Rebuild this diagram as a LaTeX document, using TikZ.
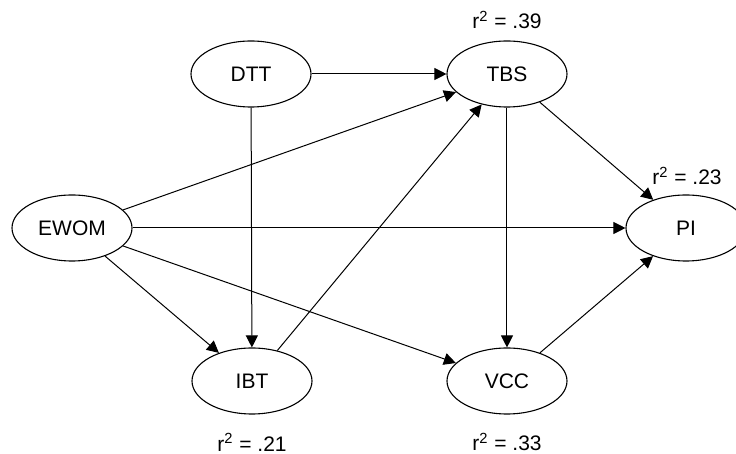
\documentclass[tikz,border=0pt]{standalone}
\usepackage{fontspec}
\setmainfont{Liberation Sans}
\usetikzlibrary{shapes.geometric,arrows.meta}
\tikzset{
  construct/.style={ellipse,draw,line width=0.55pt,minimum width=60pt,minimum height=33pt,inner sep=0pt,font=\fontsize{10.5}{12}\selectfont},
  rsq/.style={font=\fontsize{10.5}{12}\selectfont,inner sep=0pt},
  path/.style={draw,line width=0.5pt,-{Triangle[length=6pt,width=6pt]}}
}
\begin{document}
\begin{tikzpicture}[x=0.5pt,y=-0.5pt]
\useasboundingbox (0,0) rectangle (736,454);
\clip (0,0) rectangle (736,454);
% latent constructs
\node[construct] (dtt)  at (251,74)  {DTT};
\node[construct] (tbs)  at (507,74)  {TBS};
\node[construct] (ewom) at (72,228)  {EWOM};
\node[construct] (pi)   at (686,228) {PI};
\node[construct] (ibt)  at (252,381) {IBT};
\node[construct] (vcc)  at (507,381) {VCC};
% explained variance
\node[rsq] (r2tbs) at (507,20)  {r\textsuperscript{2} = .39};
\node[rsq] (r2pi)  at (687,176) {r\textsuperscript{2} = .23};
\node[rsq] (r2ibt) at (252,442) {r\textsuperscript{2} = .21};
\node[rsq] (r2vcc) at (507,442) {r\textsuperscript{2} = .33};
% structural paths
\draw[path] (dtt) -- (tbs);
\draw[path] (dtt) -- (ibt);
\draw[path] (ewom) -- (tbs);
\draw[path] (ewom) -- (pi);
\draw[path] (ewom) -- (ibt);
\draw[path] (ewom) -- (vcc);
\draw[path] (ibt) -- (tbs);
\draw[path] (tbs) -- (vcc);
\draw[path] (tbs) -- (pi);
\draw[path] (vcc) -- (pi);
\end{tikzpicture}
\end{document}
